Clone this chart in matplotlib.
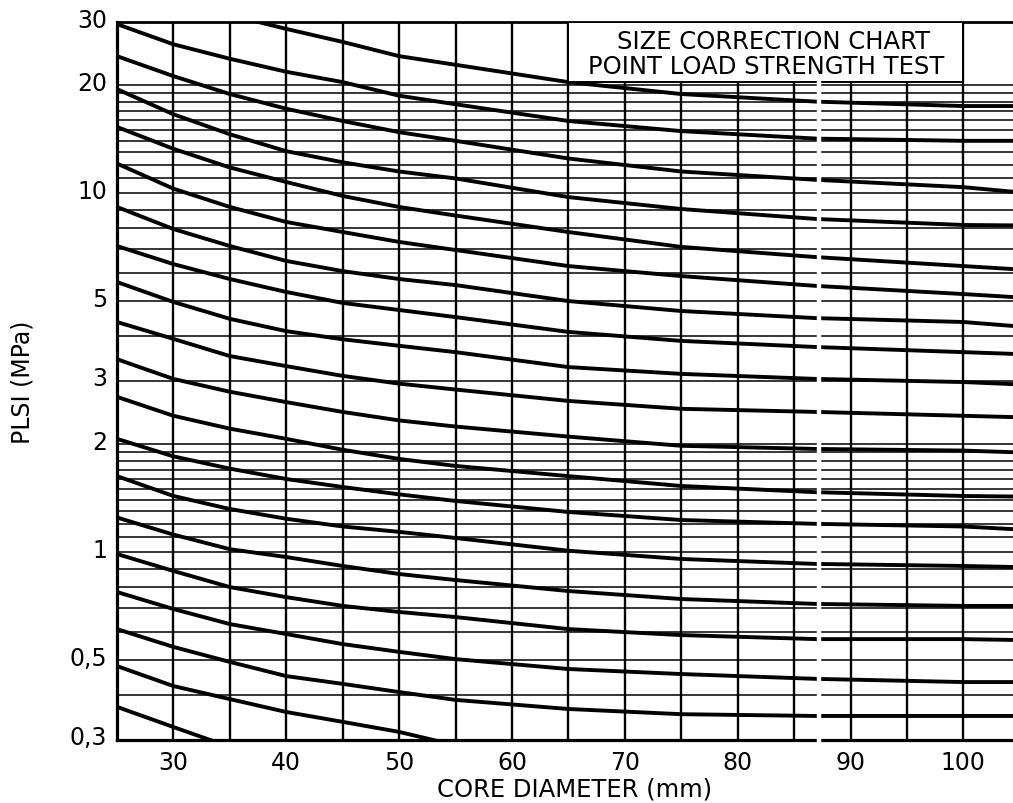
import numpy as np
import matplotlib
matplotlib.use("Agg")
import matplotlib.pyplot as plt
from matplotlib.patches import Rectangle
from matplotlib import transforms, ticker

nan = np.nan

# diametro do testemunho (mm) onde as curvas foram lidas
diametro = [25, 30, 35, 40, 45, 50, 55, 65, 75, 87, 100, 104.4]

# PLSI (MPa) de cada curva, de cima para baixo
curva_01 = [nan, nan, 31.4, 28.7, 26.4, 24.1, 22.8, 20.4, 18.9, 18.0, 17.5, 17.5]
curva_02 = [29.6, 26.0, 23.7, 21.8, 20.4, 18.7, 17.7, 15.9, 14.9, 14.2, 14.0, 14.0]
curva_03 = [24.1, 21.2, 18.9, 17.2, 15.9, 14.8, 14.0, 12.5, 11.5, 10.9, 10.4, 10.1]
curva_04 = [19.5, 16.6, 14.6, 13.1, 12.2, 11.5, 11.0, 9.76, 9.04, 8.48, 8.16, 8.14]
curva_05 = [15.3, 13.3, 11.8, 10.75, 9.83, 9.16, 8.67, 7.80, 7.09, 6.64, 6.27, 6.15]
curva_06 = [12.1, 10.3, 9.16, 8.32, 7.80, 7.32, 6.95, 6.27, 5.88, 5.52, 5.24, 5.14]
curva_07 = [9.16, 7.95, 7.13, 6.48, 6.07, 5.77, 5.55, 5.01, 4.70, 4.49, 4.38, 4.27]
curva_08 = [7.13, 6.35, 5.77, 5.31, 4.95, 4.73, 4.52, 4.11, 3.88, 3.73, 3.61, 3.57]
curva_09 = [5.66, 4.98, 4.47, 4.13, 3.92, 3.76, 3.61, 3.28, 3.14, 3.04, 2.98, 2.94]
curva_10 = [4.38, 3.93, 3.52, 3.30, 3.10, 2.95, 2.84, 2.64, 2.51, 2.46, 2.40, 2.38]
curva_11 = [3.45, 3.04, 2.80, 2.62, 2.46, 2.33, 2.24, 2.10, 1.98, 1.94, 1.92, 1.90]
curva_12 = [2.71, 2.40, 2.21, 2.07, 1.93, 1.82, 1.74, 1.63, 1.53, 1.47, 1.435, 1.43]
curva_13 = [2.07, 1.85, 1.71, 1.60, 1.52, 1.45, 1.39, 1.295, 1.23, 1.20, 1.18, 1.16]
curva_14 = [1.63, 1.435, 1.32, 1.24, 1.18, 1.14, 1.096, 1.01, 0.958, 0.928, 0.916, 0.910]
curva_15 = [1.25, 1.12, 1.02, 0.970, 0.916, 0.870, 0.837, 0.780, 0.741, 0.718, 0.709, 0.709]
curva_16 = [0.989, 0.887, 0.800, 0.750, 0.709, 0.682, 0.660, 0.611, 0.588, 0.573, 0.573, 0.570]
curva_17 = [0.775, 0.695, 0.631, 0.592, 0.555, 0.528, 0.504, 0.473, 0.458, 0.444, 0.435, 0.435]
curva_18 = [0.611, 0.545, 0.495, 0.452, 0.430, 0.408, 0.388, 0.366, 0.354, 0.350, 0.350, 0.350]
curva_19 = [0.482, 0.424, 0.390, 0.359, 0.337, 0.316, 0.290, 0.249, nan, nan, nan, nan]
curva_20 = [0.371, 0.326, 0.287, nan, nan, nan, nan, nan, nan, nan, nan, nan]

curvas = [curva_01, curva_02, curva_03, curva_04, curva_05, curva_06, curva_07,
          curva_08, curva_09, curva_10, curva_11, curva_12, curva_13, curva_14,
          curva_15, curva_16, curva_17, curva_18, curva_19, curva_20]

ticks_x = [30, 40, 50, 60, 70, 80, 90, 100]
ticks_y = [0.3, 0.5, 1, 2, 3, 5, 10, 20, 30]
rotulos_y = ["0,3", "0,5", "1", "2", "3", "5", "10", "20", "30"]

linhas_v = [30, 35, 40, 45, 50, 55, 60, 65, 70, 75, 80, 85, 90, 95, 100]
linhas_h = [0.4, 0.5, 0.6, 0.7, 0.8, 0.9,
            1.0, 1.1, 1.2, 1.3, 1.4, 1.5, 1.6, 1.7, 1.8, 1.9, 2.0,
            3, 4, 5, 6, 7, 8, 9,
            10, 11, 12, 13, 14, 15, 16, 17, 18, 19, 20]

titulo_grafico = ["SIZE CORRECTION CHART", "POINT LOAD STRENGTH TEST"]


fig = plt.figure(figsize = (10.13, 8.04), dpi = 100)
ax = fig.add_axes([117 / 1013, 1 - 741 / 804, 896 / 1013, 718 / 804])
ax.set_yscale("log")
ax.set_xlim(25, 104.4)
ax.set_ylim(0.3, 30)

for y in linhas_h:
    ax.axhline(y, color = "black", lw = 1.1, zorder = 1)
for x in linhas_v:
    ax.axvline(x, color = "black", lw = 1.7, zorder = 1)

for c in curvas:
    ax.plot(diametro, c, color = "black", lw = 2.8, zorder = 3,
            solid_joinstyle = "round", solid_capstyle = "round")

# quadro do titulo
ax.add_patch(Rectangle((65, 20.4), 35, 30 - 20.4, facecolor = "white",
                       edgecolor = "black", lw = 1.4, zorder = 5))
ax.text(0.733, 0.9735, titulo_grafico[0], transform = ax.transAxes,
        ha = "center", va = "center", fontsize = 17.5, zorder = 6)
ax.text(0.725, 0.9387, titulo_grafico[1], transform = ax.transAxes,
        ha = "center", va = "center", fontsize = 17.5, zorder = 6)

# falha branca do scan
ax.plot([87.2, 87.2], [0.295, 20.4], color = "white", lw = 3.2, zorder = 7,
        clip_on = False)

ax.set_xticks(ticks_x)
ax.set_xticklabels([str(t) for t in ticks_x])
ax.set_yticks(ticks_y)
ax.set_yticklabels(rotulos_y)
ax.yaxis.set_minor_locator(ticker.NullLocator())
ax.yaxis.set_minor_formatter(ticker.NullFormatter())
ax.tick_params(length = 0, labelsize = 17, pad = 7)

desloc = transforms.ScaledTranslation(0, 0.05, fig.dpi_scale_trans)
for tk in ax.yaxis.get_major_ticks():
    tk.label1.set_transform(tk.label1.get_transform() + desloc)

for lado in ["left", "bottom"]:
    ax.spines[lado].set_linewidth(2.3)
ax.spines["top"].set_linewidth(2.0)
ax.spines["right"].set_visible(False)

ax.set_xlabel("CORE DIAMETER (mm)", fontsize = 17.5, va = "center")
ax.xaxis.set_label_coords(0.511, -0.068)
ax.set_ylabel("PLSI (MPa)", fontsize = 17, va = "center")
ax.yaxis.set_label_coords(-0.106, 0.5)

fig.savefig("out.png", dpi = 100)
